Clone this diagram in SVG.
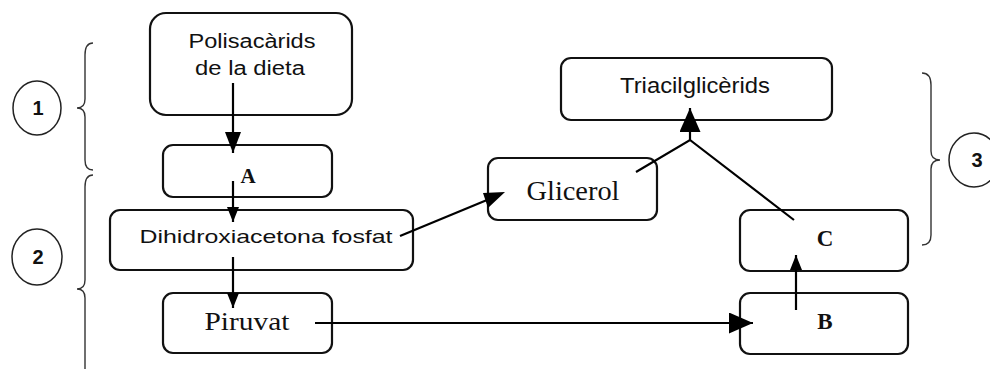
<svg xmlns="http://www.w3.org/2000/svg" width="990" height="369" viewBox="0 0 990 369">
  <style>
    .box { fill: #fff; stroke: #111; stroke-width: 2.2; }
    .sans { font-family: "Liberation Sans", Arial, sans-serif; fill: #111; }
    .serif { font-family: "Liberation Serif", "Times New Roman", serif; fill: #111; }
    .conn { stroke: #000; stroke-width: 2.2; fill: none; }
    .brace { stroke: #333; stroke-width: 1.4; fill: none; }
    .circ { fill: #fff; stroke: #222; stroke-width: 1.5; }
    .num { font-family: "Liberation Sans", Arial, sans-serif; font-weight: bold; font-size: 20px; fill: #111; text-anchor: middle; }
  </style>
  <defs>
    <marker id="arrS" viewBox="0 0 10 10" refX="10" refY="5" markerUnits="userSpaceOnUse" markerWidth="15" markerHeight="12" orient="auto" preserveAspectRatio="none">
      <path d="M0,0 L10,5 L0,10 z" fill="#000"/>
    </marker>
    <marker id="arrM" viewBox="0 0 10 10" refX="10" refY="5" markerUnits="userSpaceOnUse" markerWidth="21" markerHeight="16" orient="auto" preserveAspectRatio="none">
      <path d="M0,0 L10,5 L0,10 z" fill="#000"/>
    </marker>
    <marker id="arrL" viewBox="0 0 10 10" refX="10" refY="5" markerUnits="userSpaceOnUse" markerWidth="24" markerHeight="21" orient="auto" preserveAspectRatio="none">
      <path d="M0,0 L10,5 L0,10 z" fill="#000"/>
    </marker>
  </defs>

  <rect width="990" height="369" fill="#fff"/>

  <!-- braces and circled numbers -->
  <g id="label1">
    <path class="brace" d="M93,43 Q85,43 85,55 L85,99 Q85,108 77,108 Q85,108 85,117 L85,160 Q85,170 93,170"/>
    <ellipse class="circ" cx="37" cy="108" rx="24" ry="27"/>
    <text class="num" x="38" y="115">1</text>
  </g>
  <g id="label2">
    <path class="brace" d="M93,175 Q85,175 85,187 L85,280 Q85,289 77,289 Q85,289 85,298 L85,369"/>
    <ellipse class="circ" cx="37" cy="257" rx="25" ry="28"/>
    <text class="num" x="38" y="264">2</text>
  </g>
  <g id="label3">
    <path class="brace" d="M922,73 Q931,73 931,85 L931,151 Q931,160 940,160 Q931,160 931,169 L931,235 Q931,245 922,245"/>
    <ellipse class="circ" cx="974" cy="160" rx="25" ry="27"/>
    <text class="num" x="977" y="167">3</text>
  </g>

  <!-- nodes -->
  <g id="polisacarids">
    <rect class="box" x="150" y="13" width="202" height="102" rx="16"/>
    <text class="sans" x="252" y="48" font-size="20" text-anchor="middle" textLength="127" lengthAdjust="spacingAndGlyphs">Polisacàrids</text>
    <text class="sans" x="250" y="75" font-size="20" text-anchor="middle" textLength="110" lengthAdjust="spacingAndGlyphs">de la dieta</text>
  </g>
  <g id="A">
    <rect class="box" x="163" y="145" width="169" height="52" rx="10"/>
    <text class="serif" x="248" y="183" font-size="21" font-weight="bold" text-anchor="middle">A</text>
  </g>
  <g id="dhap">
    <rect class="box" x="110" y="210" width="303" height="60" rx="10"/>
    <text class="sans" x="266" y="243" font-size="18.5" text-anchor="middle" textLength="253" lengthAdjust="spacingAndGlyphs">Dihidroxiacetona fosfat</text>
  </g>
  <g id="piruvat">
    <rect class="box" x="163" y="293" width="169" height="60" rx="10"/>
    <text class="serif" x="247" y="330" font-size="25" text-anchor="middle" textLength="85" lengthAdjust="spacingAndGlyphs">Piruvat</text>
  </g>
  <g id="triacilglicerids">
    <rect class="box" x="561" y="58" width="271" height="62" rx="10"/>
    <text class="sans" x="695" y="93" font-size="22" text-anchor="middle" textLength="150" lengthAdjust="spacingAndGlyphs">Triacilglicèrids</text>
  </g>
  <g id="glicerol">
    <rect class="box" x="488" y="158" width="169" height="62" rx="10"/>
    <text class="serif" x="573" y="200" font-size="28" text-anchor="middle" textLength="93" lengthAdjust="spacingAndGlyphs">Glicerol</text>
  </g>
  <g id="C">
    <rect class="box" x="740" y="210" width="168" height="61" rx="10"/>
    <text class="serif" x="825" y="246" font-size="23" font-weight="bold" text-anchor="middle">C</text>
  </g>
  <g id="B">
    <rect class="box" x="740" y="293" width="168" height="61" rx="10"/>
    <text class="serif" x="825" y="329" font-size="23" font-weight="bold" text-anchor="middle">B</text>
  </g>

  <!-- connectors -->
  <g id="connectors">
    <line class="conn" x1="233" y1="83" x2="233" y2="153" marker-end="url(#arrM)"/>
    <line class="conn" x1="233" y1="181" x2="233" y2="222" marker-end="url(#arrS)"/>
    <line class="conn" x1="233" y1="257" x2="233" y2="308" marker-end="url(#arrS)"/>
    <line class="conn" x1="315" y1="323" x2="753" y2="323" marker-end="url(#arrL)"/>
    <line class="conn" x1="796" y1="310" x2="796" y2="255" marker-end="url(#arrS)"/>
    <line class="conn" x1="400" y1="236" x2="487" y2="200"/>
    <polygon points="483,193 505,192 488,208" fill="#000"/>
    <polyline class="conn" points="636,172 690,140 794,220"/>
    <line class="conn" x1="690" y1="140" x2="690" y2="108" marker-end="url(#arrL)"/>
  </g>
</svg>
